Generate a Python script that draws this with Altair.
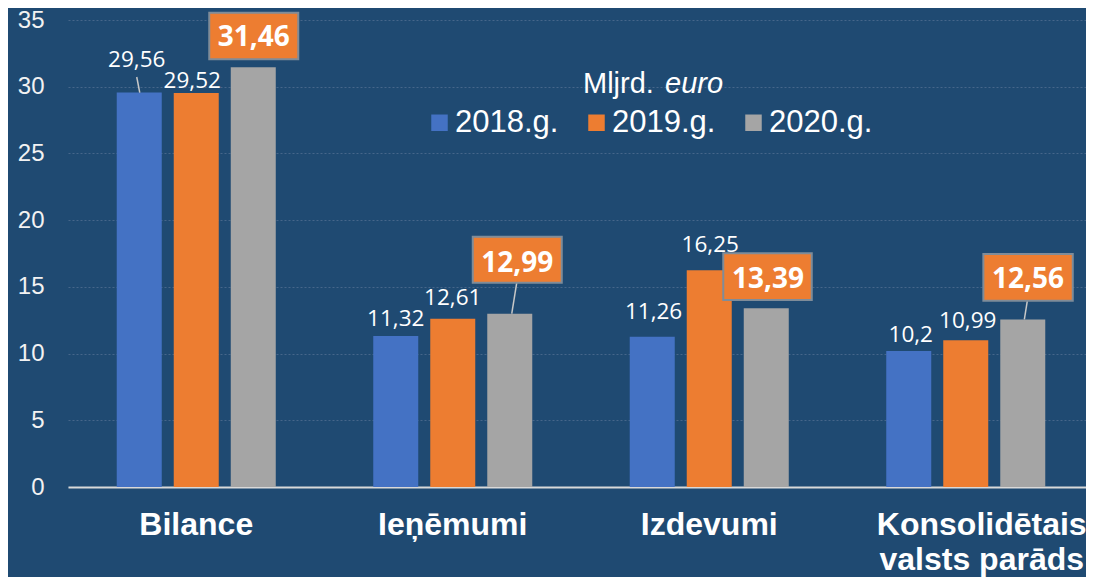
import altair as alt
import pandas as pd

# ---- data ----
categories = ["Bilance", "Ieņēmumi", "Izdevumi", "Konsolidētais valsts parāds"]
years = ["2018.g.", "2019.g.", "2020.g."]
v2018 = [29.56, 11.32, 11.26, 10.2]
v2019 = [29.52, 12.61, 16.25, 10.99]
v2020 = [31.46, 12.99, 13.39, 12.56]
yticks = [0, 5, 10, 15, 20, 25, 30, 35]
title_parts = ["Mljrd.", "euro"]

colors = ["#4472C4", "#ED7D31", "#A5A5A5"]
bg = "#1f4a72"

rows = []
for ci, c in enumerate(categories):
    for yi, vals in enumerate([v2018, v2019, v2020]):
        rows.append(dict(cat=c, year=years[yi], value=vals[ci],
                         label=str(vals[ci]).replace(".", ","), key=f"{ci}-{yi}"))
df = pd.DataFrame(rows)

# ---- annotation styling (offsets from bar-top centre, px) ----
plain_offsets = {  # key: (dx, dy)
    "0-0": (-2.5, -33), "0-1": (-4, -12),
    "1-0": (0, -16.5), "1-1": (0, -20.5),
    "2-0": (1.3, -25), "2-1": (1, -25),
    "3-0": (2, -15.5), "3-1": (2, -19.5),
}
box_offsets = {  # key: (dx, dy, box path)
    "0-2": (0.5, -29, "M-44,-54.5H45V-8H-44Z"),
    "1-2": (7.5, -50, "M-37,-77H52V-31H-37Z"),
    "2-2": (1.8, -28.4, "M-43,-55H45.5V-8.3H-43Z"),
    "3-2": (5.3, -39, "M-39.4,-65.4H50V-18.7H-39.4Z"),
}
leaders = {
    "0-0": "M0.5,0L-2.5,-15.6",
    "1-2": "M2,0L7,-31",
    "3-2": "M1.6,0L4.6,-18.7",
}

x_enc = alt.X(
    "cat:N", sort=categories,
    scale=alt.Scale(paddingInner=0, paddingOuter=0, range=[0, 1026]),
    axis=alt.Axis(
        title=None, labelFont="Liberation Sans", labelFontSize=32,
        labelFontWeight="bold", labelColor="white", labelPadding=22.5,
        labelLimit=400, ticks=False, tickSize=0, domainColor="#d9d9d9",
        domainWidth=2, labelAngle=0, labelBaseline="top", labelLineHeight=35,
        labelOverlap=False, grid=False,
        labelExpr="datum.label == 'Konsolidētais valsts parāds' ? ['Konsolidētais', 'valsts parāds'] : datum.label",
        labelOffset={"condition": {"test": "datum.value == 'Konsolidētais valsts parāds'", "value": 16}, "value": 0},
    ),
)
xo_enc = alt.XOffset("year:N", sort=years,
                     scale=alt.Scale(paddingInner=0.2105, paddingOuter=0.855))
y_enc = alt.Y(
    "value:Q", scale=alt.Scale(domain=[0, 35], nice=False),
    axis=alt.Axis(
        values=yticks, title=None, labelFont="Liberation Sans", labelFontSize=24,
        labelColor="#f2f2f2", labelPadding=24, ticks=False, tickSize=0,
        domain=False, gridColor="#46668a", gridDash=[2, 2], gridWidth=1,
    ),
)

base = alt.Chart(df).encode(x=x_enc, xOffset=xo_enc, y=y_enc)

bars = base.mark_bar().encode(
    color=alt.Color(
        "year:N", sort=years, scale=alt.Scale(domain=years, range=colors),
        legend=alt.Legend(
            orient="none", legendX=356, legendY=87, direction="horizontal",
            title=None, labelFont="Liberation Sans", labelFontSize=31,
            labelColor="white", symbolType="square", symbolSize=272,
            symbolStrokeWidth=0, labelOffset=0, columnPadding=22, padding=0,
        ),
    )
)

layers = [bars]

for k, path in leaders.items():
    layers.append(
        base.transform_filter(alt.datum.key == k).mark_point(
            shape=path, size=4, filled=False, stroke="#c8c8c8",
            strokeWidth=1.5, opacity=1,
        )
    )

for k, (dx, dy, path) in box_offsets.items():
    layers.append(
        base.transform_filter(alt.datum.key == k).mark_point(
            shape=path, size=4, filled=True, fill="#ED7D31",
            stroke="#7f8c99", strokeWidth=2, opacity=1,
        )
    )

for k, (dx, dy) in plain_offsets.items():
    layers.append(
        base.transform_filter(alt.datum.key == k).mark_text(
            dx=dx, dy=dy, font="Open Sans", fontSize=22.5, color="white",
            align="center", baseline="middle",
        ).encode(text="label:N")
    )

for k, (dx, dy, path) in box_offsets.items():
    layers.append(
        base.transform_filter(alt.datum.key == k).mark_text(
            dx=dx, dy=dy, font="Open Sans", fontSize=28, fontWeight="bold",
            color="white", align="center", baseline="middle",
        ).encode(text="label:N")
    )

title_df = pd.DataFrame({"t": title_parts})
layers.append(
    alt.Chart(title_df).transform_filter(alt.datum.t == title_parts[0]).mark_text(
        align="left", baseline="middle", font="Liberation Sans", fontSize=29,
        color="white",
    ).encode(x=alt.value(515), y=alt.value(64), text="t:N")
)
layers.append(
    alt.Chart(title_df).transform_filter(alt.datum.t == title_parts[1]).mark_text(
        align="left", baseline="middle", font="Liberation Sans", fontSize=29,
        fontStyle="italic", color="white",
    ).encode(x=alt.value(597), y=alt.value(64), text="t:N")
)

chart = alt.layer(*layers).properties(
    width=1018, height=467,
    autosize=alt.AutoSizeParams(type="none"),
    padding={"left": 60, "top": 12, "right": 0, "bottom": 90},
    background=bg,
).configure_view(stroke=None)

chart.save("out.html", embed_options={"renderer": "svg", "actions": False})
